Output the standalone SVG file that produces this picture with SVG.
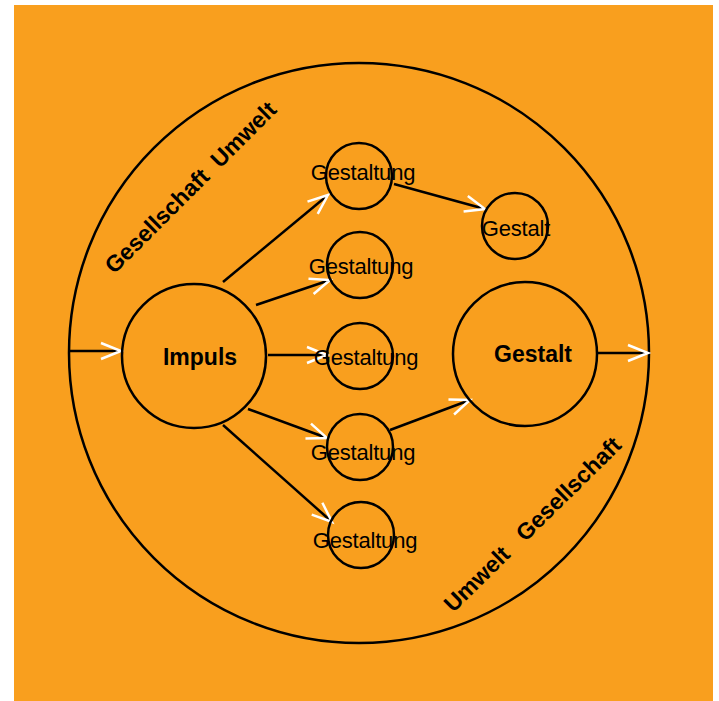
<svg xmlns="http://www.w3.org/2000/svg" width="719" height="701" viewBox="0 0 719 701">
<defs>
<style>
.c{fill:none;stroke:#000;stroke-width:2.5}
.l{fill:none;stroke:#000;stroke-width:2.5}
.t{font-family:"Liberation Sans",Arial,sans-serif;font-size:22px;fill:#000;text-anchor:middle;letter-spacing:-0.2px}
.b{font-family:"Liberation Sans",Arial,sans-serif;font-size:23px;font-weight:bold;fill:#000;text-anchor:middle}
.r{font-family:"Liberation Sans",Arial,sans-serif;font-size:23px;font-weight:bold;fill:#000;text-anchor:middle}
</style>
<marker id="a" viewBox="-24 -12 28 24" refX="0" refY="0" markerWidth="28" markerHeight="24" markerUnits="userSpaceOnUse" orient="auto">
<path d="M-20,-8 L0,0 L-20,8" fill="none" stroke="#fff" stroke-width="2.5"/>
</marker>
</defs>
<rect x="0" y="0" width="719" height="701" fill="#fff"/>
<rect x="14" y="5" width="699" height="696" fill="#F99F1E"/>
<g id="umwelt">
<circle class="c" cx="359" cy="353" r="290"/>
<text class="r" transform="translate(196,193) rotate(-45)">Gesellschaft&#160; Umwelt</text>
<text class="r" transform="translate(538,530) rotate(-44.5)">Umwelt&#160;&#160; Gesellschaft</text>
</g>
<g id="connectors">
<line class="l" x1="69" y1="351" x2="121" y2="351" marker-end="url(#a)"/>
<line class="l" x1="223" y1="282" x2="328" y2="195" marker-end="url(#a)"/>
<line class="l" x1="256" y1="305" x2="330" y2="280" marker-end="url(#a)"/>
<line class="l" x1="268" y1="355" x2="327" y2="355" marker-end="url(#a)"/>
<line class="l" x1="248" y1="409" x2="327" y2="438" marker-end="url(#a)"/>
<line class="l" x1="223" y1="425" x2="332" y2="522" marker-end="url(#a)"/>
<line class="l" x1="394" y1="184" x2="485" y2="209" marker-end="url(#a)"/>
<line class="l" x1="390" y1="430" x2="470" y2="400" marker-end="url(#a)"/>
<line class="l" x1="598" y1="353" x2="648" y2="353" marker-end="url(#a)"/>
</g>
<g id="impuls">
<circle class="c" cx="194" cy="356" r="72"/>
<text class="b" x="200" y="365">Impuls</text>
</g>
<g id="gestaltung1">
<circle class="c" cx="359" cy="176" r="33"/>
<text class="t" x="363" y="180">Gestaltung</text>
</g>
<g id="gestaltung2">
<circle class="c" cx="360" cy="265" r="33"/>
<text class="t" x="361" y="274">Gestaltung</text>
</g>
<g id="gestaltung3">
<circle class="c" cx="360" cy="356" r="33"/>
<text class="t" x="366" y="365">Gestaltung</text>
</g>
<g id="gestaltung4">
<circle class="c" cx="360" cy="447" r="33"/>
<text class="t" x="363" y="460">Gestaltung</text>
</g>
<g id="gestaltung5">
<circle class="c" cx="361" cy="535" r="33"/>
<text class="t" x="365" y="548">Gestaltung</text>
</g>
<g id="gestalt-small">
<circle class="c" cx="515" cy="226" r="33"/>
<text class="t" x="516" y="236">Gestalt</text>
</g>
<g id="gestalt">
<circle class="c" cx="525" cy="354" r="72"/>
<text class="b" x="533" y="362">Gestalt</text>
</g>
</svg>
